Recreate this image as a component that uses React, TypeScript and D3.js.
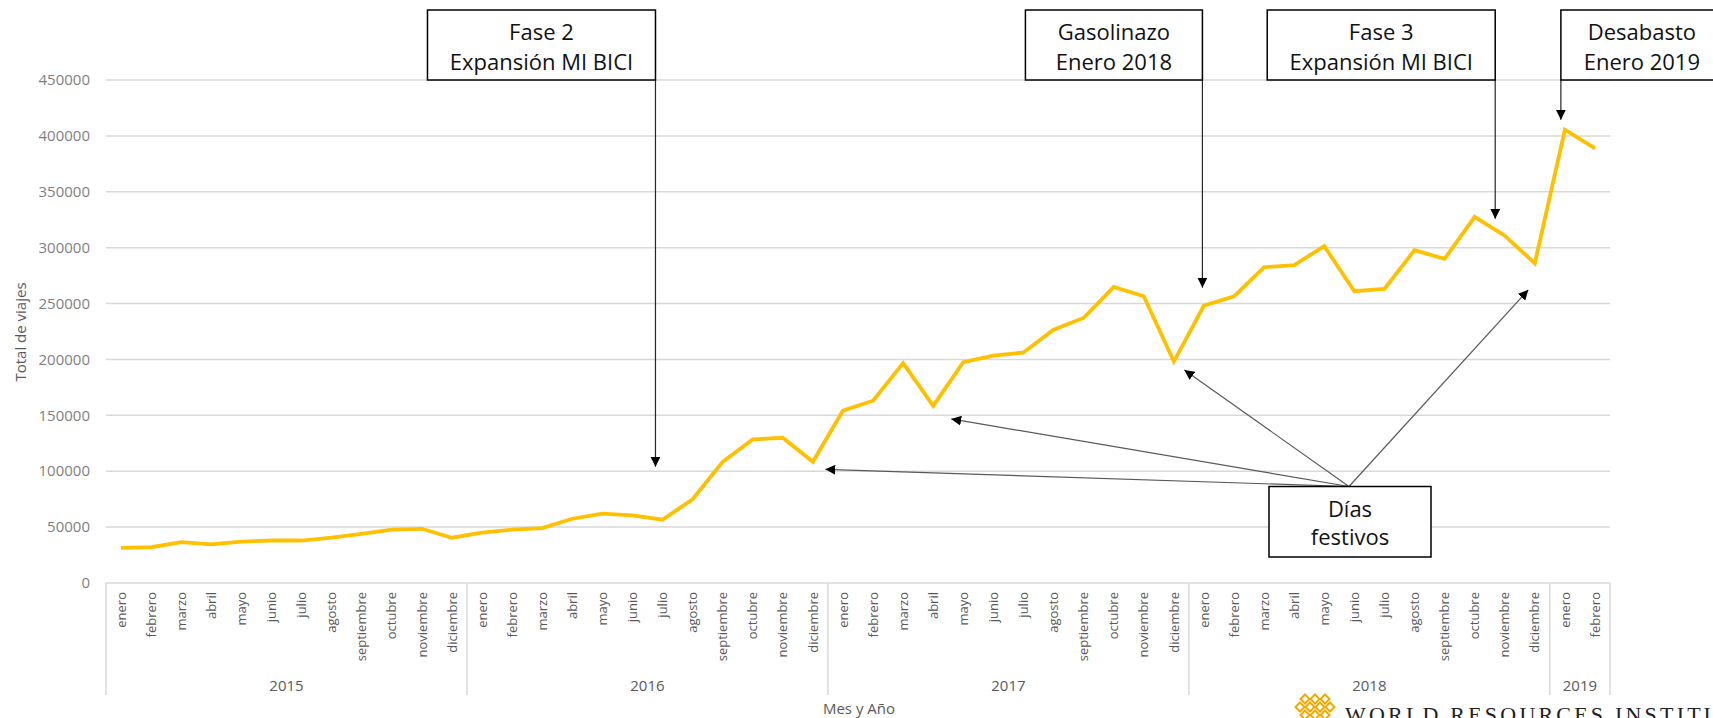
import React from "react";
import * as d3 from "d3";

// categorias del eje (multinivel: mes / año)
const months = ["enero", "febrero", "marzo", "abril", "mayo", "junio", "julio", "agosto", "septiembre", "octubre", "noviembre", "diciembre"];
const years = ["2015", "2016", "2017", "2018", "2019"];
const monthsPerYear = [12, 12, 12, 12, 2];

// total de viajes por mes
const trips2015 = [31500, 32000, 36500, 34500, 37000, 38000, 38000, 40500, 44000, 47700, 48500, 40500];
const trips2016 = [45000, 47700, 49100, 57500, 62000, 60500, 56600, 74900, 108400, 128400, 129900, 108400];
const trips2017 = [154200, 163100, 196700, 158400, 197600, 203500, 206200, 226600, 237100, 264900, 256500, 198100];
const trips2018 = [248100, 256500, 282500, 284300, 301400, 261000, 263100, 297700, 290000, 327500, 310700, 286000];
const trips2019 = [405500, 388800];

const yTicks = [0, 50000, 100000, 150000, 200000, 250000, 300000, 350000, 400000, 450000];

// anotaciones superiores: indice del mes al que apuntan
const topNotes = [
  { lines: ["Fase 2", "Expansión MI BICI"], target: 18 },
  { lines: ["Gasolinazo", "Enero 2018"], target: 36 },
  { lines: ["Fase 3", "Expansión MI BICI"], target: 46 },
  { lines: ["Desabasto", "Enero 2019"], target: 48 },
];
const holidayTargets = [23, 27, 35, 47];

const W = 1713;
const H = 718;
const left = 106;
const right = 1610;
const top = 80;
const bottom = 583;
const font = "'Open Sans', sans-serif";

export default function App() {
  const series = [trips2015, trips2016, trips2017, trips2018, trips2019];
  const data = series.flatMap((vals, yi) =>
    vals.map((v, mi) => ({ year: years[yi], month: months[mi], value: v }))
  );

  const x = d3.scaleBand<number>().domain(d3.range(data.length)).range([left, right]).padding(0);
  const xc = (i: number) => (x(i) as number) + x.bandwidth() / 2;
  const y = d3.scaleLinear().domain([0, 450000]).range([bottom, top]);

  const line = d3
    .line<{ value: number }>()
    .x((_, i) => xc(i))
    .y((d) => y(d.value));

  // límites de cada año
  const bounds = [0, ...d3.cumsum(monthsPerYear)];

  // posicion/estilo de las cajas superiores
  const noteLayout = [
    { dx: -7, w: 228, side: "left", gap: 53 },
    { dx: -1.5, w: 177, side: "left", gap: 18 },
    { dx: -9.5, w: 228, side: "left", gap: 17 },
    { dx: -4, w: 162, side: "right", gap: 10 },
  ];
  const holidayOffsets = [
    [12.5, 7.5],
    [18, 13],
    [10.5, 8.5],
    [-6.5, 26.5],
  ];
  const hBox = { x0: 1269, x1: 1431, y0: 486.5, y1: 557 };
  const hSrc = [1349, 486.5];

  return (
    <svg width={W} height={H} style={{ position: "absolute", left: 0, top: 0, background: "#fff" }}>
      <defs>
        <marker id="arrow" viewBox="0 0 10 10" refX="10" refY="5" markerWidth="10" markerHeight="10" markerUnits="userSpaceOnUse" orient="auto">
          <path d="M0,0 L10,5 L0,10 z" fill="#000" />
        </marker>
      </defs>

      {/* cuadrícula */}
      {yTicks.map((t) => (
        <g key={t}>
          <line x1={left} x2={right} y1={y(t)} y2={y(t)} stroke="#d9d9d9" strokeWidth={1.5} />
          <text x={90} y={y(t)} dy="0.35em" textAnchor="end" fontFamily={font} fontSize={15} fill="#7f7f7f">
            {t}
          </text>
        </g>
      ))}

      {/* eje de categorías */}
      {bounds.map((b, i) => (
        <line key={`sep-${i}`} x1={left + b * x.bandwidth()} x2={left + b * x.bandwidth()} y1={bottom} y2={695} stroke="#d9d9d9" strokeWidth={1.5} />
      ))}
      {data.map((d, i) => (
        <text
          key={`m-${i}`}
          transform={`translate(${xc(i)},592) rotate(-90)`}
          dy="0.36em"
          textAnchor="end"
          fontFamily={font}
          fontSize={13}
          fill="#595959"
        >
          {d.month}
        </text>
      ))}
      {years.map((yr, i) => (
        <text
          key={yr}
          x={left + ((bounds[i] + bounds[i + 1]) / 2) * x.bandwidth()}
          y={686}
          dy="0.35em"
          textAnchor="middle"
          fontFamily={font}
          fontSize={15}
          fill="#595959"
        >
          {yr}
        </text>
      ))}
      <text x={859} y={709} dy="0.35em" textAnchor="middle" fontFamily={font} fontSize={15} fill="#595959">
        Mes y Año
      </text>
      <text transform="translate(21,332) rotate(-90)" dy="0.35em" textAnchor="middle" fontFamily={font} fontSize={15} fill="#595959">
        Total de viajes
      </text>

      {/* serie */}
      <path d={line(data) || undefined} fill="none" stroke="#FFC000" strokeWidth={3.8} strokeLinejoin="miter" />

      {/* anotaciones superiores */}
      {topNotes.map((n, i) => {
        const L = noteLayout[i];
        const ax = xc(n.target) + L.dx;
        const x0 = L.side === "left" ? ax - L.w : ax;
        const tipY = y(data[n.target].value) - L.gap;
        return (
          <g key={`note-${i}`}>
            <line x1={ax} x2={ax} y1={80} y2={tipY} stroke="#262626" strokeWidth={1.2} markerEnd="url(#arrow)" />
            <rect x={x0} y={10} width={L.w} height={70} fill="#fff" stroke="#000" strokeWidth={1.5} />
            {n.lines.map((t, j) => (
              <text key={j} x={x0 + L.w / 2} y={32 + j * 30} dy="0.35em" textAnchor="middle" fontFamily={font} fontSize={22} fill="#111">
                {t}
              </text>
            ))}
          </g>
        );
      })}

      {/* días festivos */}
      {holidayTargets.map((t, i) => (
        <line
          key={`h-${i}`}
          x1={hSrc[0]}
          y1={hSrc[1]}
          x2={xc(t) + holidayOffsets[i][0]}
          y2={y(data[t].value) + holidayOffsets[i][1]}
          stroke="#595959"
          strokeWidth={1.2}
          markerEnd="url(#arrow)"
        />
      ))}
      <rect x={hBox.x0} y={hBox.y0} width={hBox.x1 - hBox.x0} height={hBox.y1 - hBox.y0} fill="#fff" stroke="#000" strokeWidth={1.5} />
      <text x={(hBox.x0 + hBox.x1) / 2} y={509} dy="0.35em" textAnchor="middle" fontFamily={font} fontSize={22} fill="#111">
        Días
      </text>
      <text x={(hBox.x0 + hBox.x1) / 2} y={537} dy="0.35em" textAnchor="middle" fontFamily={font} fontSize={22} fill="#111">
        festivos
      </text>

      {/* logo WRI */}
      <g fill="none" stroke="#F2A900" strokeWidth={2}>
        {[
          [1305, 699], [1315, 699], [1325, 699],
          [1300, 707], [1310, 707], [1320, 707], [1330, 707],
          [1305, 715], [1315, 715], [1325, 715],
        ].map(([cx, cy], i) => (
          <path key={`lg-${i}`} d={`M${cx},${cy - 4.5} L${cx + 4.5},${cy} L${cx},${cy + 4.5} L${cx - 4.5},${cy} Z`} />
        ))}
      </g>
      <text x={1345} y={722} fontFamily="'Liberation Serif', 'DejaVu Serif', serif" fontSize={22} letterSpacing={3.2} fill="#222">
        WORLD RESOURCES INSTITUTE
      </text>
    </svg>
  );
}
